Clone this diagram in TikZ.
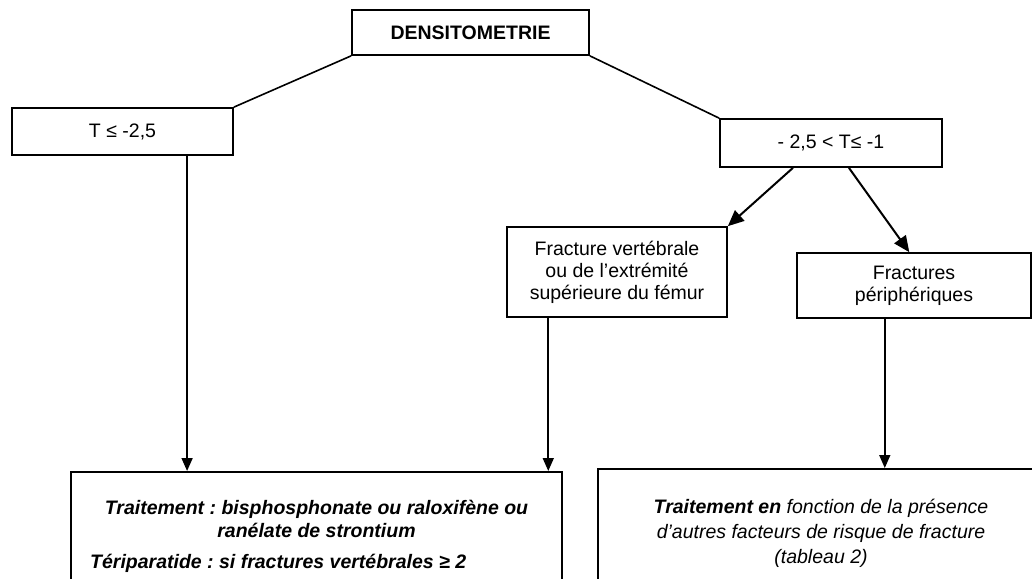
\documentclass[tikz,border=0pt]{standalone}
\usepackage{fontspec}
\setmainfont{Liberation Sans}
\usetikzlibrary{arrows.meta,positioning,calc}
\frenchspacing

\tikzset{
  box/.style={rectangle, draw, line width=1.7pt, align=center, inner sep=0pt},
  link/.style={line width=1.6pt},
  arr/.style={line width=1.6pt, -{Triangle[length=13pt,width=11pt]}},
  bigarr/.style={line width=2pt, -{Triangle[length=16pt,width=14pt]}},
  txt/.style={inner sep=0pt, anchor=base},
}

\begin{document}
\begin{tikzpicture}[x=1pt, y=-1pt, font=\fontsize{19.5}{22}\selectfont]
    \clip (0,0) rectangle (1032,578);

    % Top box
    \node[box, minimum width=237pt, minimum height=45pt] (dens) at (470.5,32.5) {\textbf{DENSITOMETRIE}};

    % T-score boxes
    \node[box, minimum width=221pt, minimum height=47pt] (tle) at (122.5,131.5) {T ≤ -2,5};
    \node[box, minimum width=222pt, minimum height=48pt] (tmid) at (831,143) {- 2,5 < T≤ -1};

    % Fracture boxes
    \node[box, minimum width=220pt, minimum height=90pt] (fvert) at (617,272) {Fracture vertébrale\\ou de l'extrémité\\supérieure du fémur};
    \node[box, minimum width=234pt, minimum height=65pt] (fper) at (914,285.5) {Fractures\\périphériques};

    % Treatment boxes (cut by the lower edge)
    \node[box, minimum width=491pt, minimum height=150pt, anchor=north] (trtA) at (316.5,471) {};
    \node[box, minimum width=446pt, minimum height=150pt, anchor=north] (trtB) at (821,468) {};

    \node[txt] (trtA1) at (316.5,514) {\textbf{\textit{Traitement : bisphosphonate ou raloxifène ou}}};
    \node[txt] (trtA2) at (316.5,537) {\textbf{\textit{ranélate de strontium}}};
    \node[txt, anchor=base west] (trtA3) at (90,568) {\textbf{\textit{Tériparatide : si fractures vertébrales ≥ 2}}};

    \node[txt] (trtB1) at (821,513) {\textbf{\textit{Traitement en}} \textit{fonction de la présence}};
    \node[txt] (trtB2) at (821,538) {\textit{d'autres facteurs de risque de fracture}};
    \node[txt] (trtB3) at (821,563) {\textit{(tableau 2)}};

    % Connectors
    \draw[link] (dens.south west) -- (tle.north east);
    \draw[link] (dens.south east) -- (tmid.north west);

    \coordinate (tleout) at ($(tle.south west)!0.79!(tle.south east)$);
    \coordinate (midoutA) at ($(tmid.south west)!0.33!(tmid.south east)$);
    \coordinate (midoutB) at ($(tmid.south west)!0.58!(tmid.south east)$);
    \coordinate (fperin) at ($(fper.north west)!0.48!(fper.north east)$);
    \coordinate (fvertout) at ($(fvert.south west)!0.19!(fvert.south east)$);
    \coordinate (fperout) at ($(fper.south west)!0.376!(fper.south east)$);

    \draw[bigarr] (midoutA) -- (fvert.north east);
    \draw[bigarr] (midoutB) -- (fperin);

    \draw[arr] (tleout) -- (tleout |- trtA.north);
    \draw[arr] (fvertout) -- (fvertout |- trtA.north);
    \draw[arr] (fperout) -- (fperout |- trtB.north);
\end{tikzpicture}
\end{document}
